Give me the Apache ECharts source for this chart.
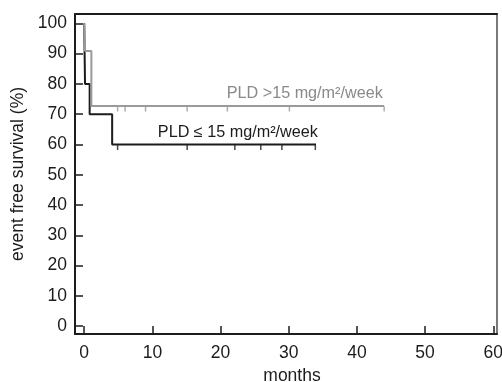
<!DOCTYPE html>
<html>
<head>
<meta charset="utf-8">
<script src="https://cdn.jsdelivr.net/npm/echarts@6/dist/echarts.min.js"></script>
<style>
  html, body { margin: 0; padding: 0; background: #fff; }
  #chart { width: 502px; height: 382px; }
</style>
</head>
<body>
<div id="chart"></div>
<script>
// Kaplan-Meier steps: [months, event free survival %]
const highDoseCurve = [[0, 100], [0.12, 90.9], [1.05, 72.7], [44, 72.7]];
const lowDoseCurve = [[0, 100], [0.12, 80], [0.8, 70], [4.1, 60], [34, 60]];

// censored patients (tick marks on the curves)
const highDoseCensored = [4.9, 6.0, 9.0, 15.1, 21.0, 30.1, 44.0];
const lowDoseCensored = [4.9, 15.1, 22.1, 25.9, 29.0, 33.9];

const xTicks = [0, 10, 20, 30, 40, 50, 60];
const yTicks = [0, 10, 20, 30, 40, 50, 60, 70, 80, 90, 100];

const highDoseLabel = 'PLD >15 mg/m²/week';
const lowDoseLabel = 'PLD ≤ 15 mg/m²/week';

const black = '#1c1c1c';
const gray = '#9a9a9a';
const font = 'Liberation Sans, Arial, sans-serif';

const chart = echarts.init(document.getElementById('chart'));

const lastY = (curve) => curve[curve.length - 1][1];

chart.setOption({
  animation: false,
  backgroundColor: '#fff',
  grid: { left: 75, right: 5, top: 14, bottom: 48, outerBoundsMode: 'none' },
  xAxis: [
    {
      type: 'value',
      min: -1.35,
      max: 60.55,
      name: 'months',
      nameLocation: 'middle',
      nameGap: 30,
      nameTextStyle: { fontFamily: font, fontSize: 17.5, color: black, padding: [0, 0, 0, 12] },
      axisLine: { onZero: false, lineStyle: { color: black, width: 2 } },
      axisTick: { inside: true, length: 8, customValues: xTicks, lineStyle: { color: black, width: 1.5 } },
      axisLabel: { customValues: xTicks, margin: 10, fontFamily: font, fontSize: 17.5, color: black },
      splitLine: { show: false },
    },
    {
      type: 'value',
      position: 'top',
      min: -1.35,
      max: 60.55,
      axisLine: { onZero: false, lineStyle: { color: black, width: 2 } },
      axisTick: { show: false },
      axisLabel: { show: false },
      splitLine: { show: false },
    },
  ],
  yAxis: [
    {
      type: 'value',
      min: -2.6,
      max: 103.1,
      name: 'event free survival (%)',
      nameLocation: 'middle',
      nameGap: 48,
      nameTextStyle: { fontFamily: font, fontSize: 17.5, color: black },
      axisLine: { show: true, onZero: false, lineStyle: { color: black, width: 2 } },
      axisTick: { show: true, inside: true, length: 8, customValues: yTicks, lineStyle: { color: black, width: 1.5 } },
      axisLabel: { customValues: yTicks, margin: 8, fontFamily: font, fontSize: 17.5, color: black },
      splitLine: { show: false },
    },
    {
      type: 'value',
      position: 'right',
      min: -2.6,
      max: 103.1,
      axisLine: { show: true, onZero: false, lineStyle: { color: '#7a7a7a', width: 2 } },
      axisTick: { show: false },
      axisLabel: { show: false },
      splitLine: { show: false },
    },
  ],
  series: [
    {
      name: lowDoseLabel,
      type: 'line',
      step: 'end',
      symbol: 'none',
      data: lowDoseCurve,
      lineStyle: { color: black, width: 2 },
      z: 2,
      markPoint: {
        symbol: 'circle',
        symbolSize: 0,
        data: [{ coord: [10.8, 63.9] }],
        label: {
          show: true,
          position: 'right',
          distance: 0,
          formatter: lowDoseLabel,
          fontFamily: font,
          fontSize: 16.2,
          color: black,
        },
      },
    },
    {
      name: highDoseLabel,
      type: 'line',
      step: 'end',
      symbol: 'none',
      data: highDoseCurve,
      lineStyle: { color: gray, width: 2 },
      z: 3,
      markPoint: {
        symbol: 'circle',
        symbolSize: 0,
        data: [{ coord: [20.9, 76.9] }],
        label: {
          show: true,
          position: 'right',
          distance: 0,
          formatter: highDoseLabel,
          fontFamily: font,
          fontSize: 16.2,
          color: '#8a8a8a',
        },
      },
    },
    {
      type: 'scatter',
      symbol: 'rect',
      symbolSize: [1.5, 5],
      symbolOffset: [0, 3],
      itemStyle: { color: black },
      data: lowDoseCensored.map((t) => [t, lastY(lowDoseCurve)]),
      z: 2,
    },
    {
      type: 'scatter',
      symbol: 'rect',
      symbolSize: [1.5, 5],
      symbolOffset: [0, 3],
      itemStyle: { color: gray },
      data: highDoseCensored.map((t) => [t, lastY(highDoseCurve)]),
      z: 3,
    },
  ],
});
</script>
</body>
</html>
